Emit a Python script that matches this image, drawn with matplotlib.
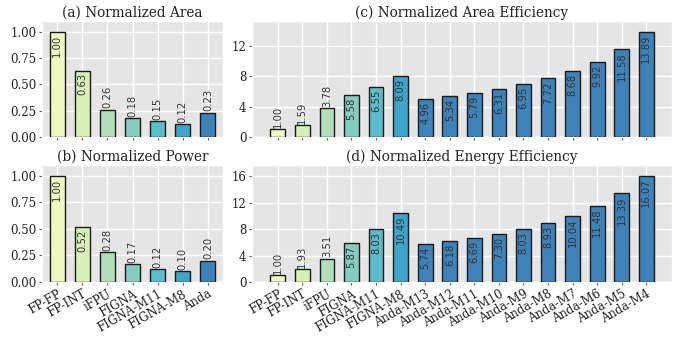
import matplotlib
matplotlib.use("Agg")
import matplotlib.pyplot as plt
import numpy as np

# left panels: baselines + Anda
left_names = ["FP-FP", "FP-INT", "iFPU", "FIGNA", "FIGNA-M11", "FIGNA-M8", "Anda"]
area = [1.00, 0.63, 0.26, 0.18, 0.15, 0.12, 0.23]
power = [1.00, 0.52, 0.28, 0.17, 0.12, 0.10, 0.20]

# right panels: baselines + Anda mantissa variants
right_names = ["FP-FP", "FP-INT", "iFPU", "FIGNA", "FIGNA-M11", "FIGNA-M8",
               "Anda-M13", "Anda-M12", "Anda-M11", "Anda-M10", "Anda-M9",
               "Anda-M8", "Anda-M7", "Anda-M6", "Anda-M5", "Anda-M4"]
area_eff = [1.00, 1.59, 3.78, 5.58, 6.55, 8.09, 4.96, 5.34, 5.79, 6.31,
            6.95, 7.72, 8.68, 9.92, 11.58, 13.89]
energy_eff = [1.00, 1.93, 3.51, 5.87, 8.03, 10.49, 5.74, 6.18, 6.69, 7.30,
              8.03, 8.93, 10.04, 11.48, 13.39, 16.07]

base_colors = ["#eff8c0", "#d8efb5", "#b2dfbb", "#86cdc0", "#5bbdcc", "#3ca5c9"]
anda_color = "#3d83b9"

plt.style.use("ggplot")
plt.rcParams["font.family"] = "DejaVu Serif"


def draw(ax, names, vals, title, yticks, ylabels, xlim, show_x):
    colors = base_colors + [anda_color] * (len(names) - len(base_colors))
    x = np.arange(len(names))
    ax.bar(x, vals, width=0.6, color=colors, edgecolor="#1a1a1a", linewidth=1.0, zorder=3)
    vmax = max(vals)
    for xi, v in zip(x, vals):
        # tall bars get the label inside, short ones above
        if v > 0.3 * vmax:
            ax.annotate("%.2f" % v, (xi, v), xytext=(0, -2), textcoords="offset points",
                        rotation=90, ha="center", va="top", fontsize=7.2,
                        family="DejaVu Sans", color="#333333", zorder=4)
        else:
            ax.annotate("%.2f" % v, (xi, v), xytext=(0, 1), textcoords="offset points",
                        rotation=90, ha="center", va="bottom", fontsize=7.2,
                        family="DejaVu Sans", color="#333333", zorder=4)
    ax.set_xlim(*xlim)
    ax.set_ylim(0, vmax * 1.1)
    ax.set_yticks(yticks)
    ax.set_yticklabels(ylabels)
    ax.set_xticks(x)
    if show_x:
        ax.set_xticklabels(names, rotation=30, ha="right", rotation_mode="anchor")
    else:
        ax.set_xticklabels([])
    ax.set_title(title, fontsize=9.8, color="#222222", pad=3)
    ax.tick_params(labelsize=8.5, labelcolor="#222222", length=2.5, pad=1.5)
    ax.grid(True, color="white", linewidth=1.0, zorder=0)
    ax.set_axisbelow(True)


fig = plt.figure(figsize=(6.81, 3.37), dpi=100)
ax_a = fig.add_axes([0.0617, 0.5935, 0.2658, 0.344])
ax_b = fig.add_axes([0.0617, 0.1632, 0.2658, 0.347])
ax_c = fig.add_axes([0.370, 0.5935, 0.617, 0.344])
ax_d = fig.add_axes([0.370, 0.1632, 0.617, 0.347])

frac_t = [0, 0.25, 0.5, 0.75, 1.0]
frac_l = ["0.00", "0.25", "0.50", "0.75", "1.00"]
draw(ax_a, left_names, area, "(a) Normalized Area", frac_t, frac_l, (-0.6, 6.6), False)
draw(ax_b, left_names, power, "(b) Normalized Power", frac_t, frac_l, (-0.6, 6.6), True)
draw(ax_c, right_names, area_eff, "(c) Normalized Area Efficiency",
     [0, 4, 8, 12], ["0", "4", "8", "12"], (-1.05, 16.05), False)
draw(ax_d, right_names, energy_eff, "(d) Normalized Energy Efficiency",
     [0, 4, 8, 12, 16], ["0", "4", "8", "12", "16"], (-1.05, 16.05), True)

fig.savefig("out.png", dpi=100)
